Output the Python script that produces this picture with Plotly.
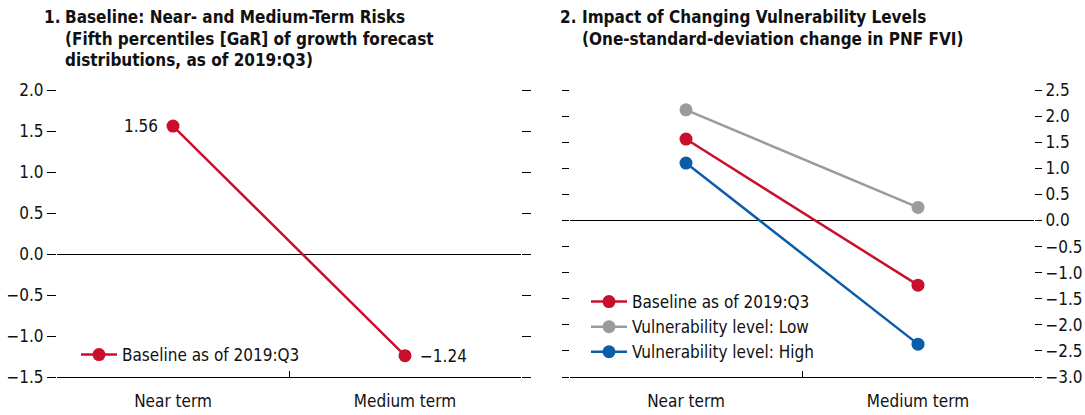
import plotly.graph_objects as go

# data
horizons = ["Near term", "Medium term"]
baseline = [1.56, -1.24]
vuln_low = [2.12, 0.25]
vuln_high = [1.10, -2.37]

RED = "#C8102E"
GRAY = "#9A9B9D"
BLUE = "#0B5DAA"
FONT = "Liberation Sans Narrow, Arial Narrow, DejaVu Sans Condensed, sans-serif"

W, H = 1085, 415


def fmt(v):
    s = f"{abs(v):.2f}"
    return ("\u2212" + s) if v < 0 else s


def px(x):
    return x / W


fig = go.Figure()

# panel 1
fig.add_trace(go.Scatter(
    x=horizons, y=baseline, mode="lines+markers", name="Baseline as of 2019:Q3",
    line=dict(color=RED, width=2.5), marker=dict(size=13, color=RED),
    xaxis="x", yaxis="y", legend="legend",
))
for h, v, side in zip(horizons, baseline, ["right", "left"]):
    fig.add_annotation(
        x=h, y=v, xref="x", yref="y", text=fmt(v), showarrow=False,
        xanchor=side, xshift=-13 if side == "right" else 13,
        font=dict(size=17, color="#111"),
    )

# panel 2
for name, vals, col in [
    ("Baseline as of 2019:Q3", baseline, RED),
    ("Vulnerability level: Low", vuln_low, GRAY),
    ("Vulnerability level: High", vuln_high, BLUE),
]:
    fig.add_trace(go.Scatter(
        x=horizons, y=vals, mode="lines+markers", name=name,
        line=dict(color=col, width=2.5), marker=dict(size=13, color=col),
        xaxis="x2", yaxis="y2", legend="legend2",
    ))

xcommon = dict(
    type="category", range=[-0.5, 1.5], showline=True, linecolor="black", linewidth=1,
    ticks="inside", tickson="boundaries", ticklen=6, tickcolor="black",
    showgrid=False, tickfont=dict(size=17, color="#111"), ticklabelstandoff=9,
    automargin=False,
)
ycommon = dict(
    dtick=0.5, tickformat=".1f", ticks="outside", tickcolor="black",
    mirror="ticks", showgrid=False, showline=False,
    zeroline=True, zerolinecolor="black", zerolinewidth=1, automargin=False,
    tickfont=dict(size=17, color="#111"),
)

top, bottom = 90, H - 377
plot_h = 377 - 90

fig.update_layout(
    width=W, height=H,
    margin=dict(l=0, r=0, t=top, b=bottom),
    paper_bgcolor="white", plot_bgcolor="white",
    font=dict(family=FONT, size=17, color="#111"),
    xaxis=dict(domain=[px(57), px(521)], anchor="y", **xcommon),
    xaxis2=dict(domain=[px(570), px(1034)], anchor="y2", **xcommon),
    yaxis=dict(range=[-1.5, 2.0], anchor="x", side="left", ticklen=9, **ycommon),
    yaxis2=dict(range=[-3.0, 2.5], anchor="x2", side="right", ticklen=7, **ycommon),
    legend=dict(x=px(76), y=(377 - 355) / plot_h, xanchor="left", yanchor="middle",
                bgcolor="rgba(0,0,0,0)", font=dict(size=17), itemwidth=36,
                tracegroupgap=0),
    legend2=dict(x=px(586), y=(377 - 327) / plot_h, xanchor="left", yanchor="middle",
                 bgcolor="rgba(0,0,0,0)", font=dict(size=17), itemwidth=36,
                 tracegroupgap=0),
    showlegend=True,
)

# titles with hanging indent, one annotation per line
title_font = dict(family=FONT, size=17, color="#111")
line_y = [17, 38.5, 60]


def title_line(text, x, row):
    fig.add_annotation(
        text=f"<b>{text}</b>", x=px(x), y=1, xref="paper", yref="paper",
        xanchor="left", yanchor="middle", yshift=top - line_y[row],
        showarrow=False, font=title_font,
    )


title_line("1.", 42, 0)
title_line("Baseline: Near- and Medium-Term Risks", 63, 0)
title_line("(Fifth percentiles [GaR] of growth forecast", 63, 1)
title_line("distributions, as of 2019:Q3)", 63, 2)
title_line("2.", 558, 0)
title_line("Impact of Changing Vulnerability Levels", 580, 0)
title_line("(One-standard-deviation change in PNF FVI)", 580, 1)

# the page body keeps its default 8px margin otherwise; drop it so the figure fills the window
fig.write_html(
    "out.html",
    config={"displayModeBar": False},
    post_script="document.body.style.margin = '0';",
)
